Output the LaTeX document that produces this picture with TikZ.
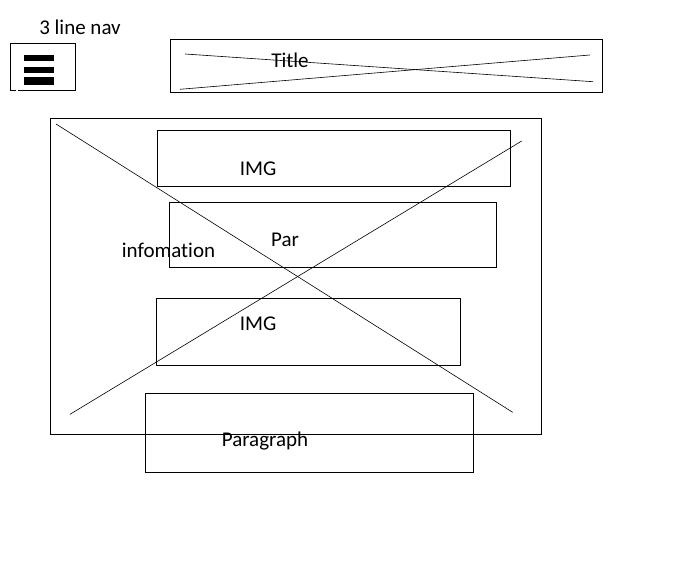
\documentclass[tikz,border=0pt]{standalone}
\usepackage{fontspec}
\setmainfont[Ligatures={NoCommon,NoRare}]{Carlito}
\usepackage{tikz}

\begin{document}
\begin{tikzpicture}[x=1pt,y=-1pt,
  box/.style={draw,line width=0.9pt},
  cross/.style={line width=0.6pt},
  lbl/.style={font=\fontsize{21}{25}\selectfont,inner sep=0pt}]
\useasboundingbox (0,0) rectangle (696,564);
% \draw[step=50,gray,very thin] (0,0) grid (696,564);

%% nav button
\node[lbl] (navtxt) at (80,27) {3 line nav};
\draw[box] (15.7,90.7) -- (10.7,90.7) -- (10.7,43.3) -- (75,43.3) -- (75,90.7) -- (18.3,90.7);
\fill (24,55) rectangle (54,61.5);
\fill (24,66.7) rectangle (54,73.3);
\fill (24,77.3) rectangle (54,85);

%% title bar
\draw[box] (170,39.3) rectangle (602.7,92.3);
\coordinate (t1) at (185,54);
\coordinate (t2) at (593,81.7);
\coordinate (t3) at (180,89.3);
\coordinate (t4) at (590,55);
\draw[cross] (t1) -- (t2);
\draw[cross] (t3) -- (t4);
\node[lbl] (title) at (290,60.5) {Title};

%% information panel
\draw[box] (50.7,118) rectangle (541,434.3);
\coordinate (m1) at (56,124);
\coordinate (m2) at (512.7,412.3);
\coordinate (m3) at (521.7,141);
\coordinate (m4) at (70,414.3);
\draw[cross] (m1) -- (m2);
\draw[cross] (m3) -- (m4);
\node[lbl] (info) at (168.5,250) {infomation};

%% content blocks
\draw[box] (157.3,130) rectangle (510.7,186);
\node[lbl] (img1) at (258,168.5) {IMG};
\draw[box] (169.3,202.3) rectangle (496.3,267);
\node[lbl] (par) at (285,239.5) {Par};
\draw[box] (156.3,298.3) rectangle (460.3,365);
\node[lbl] (img2) at (258,324) {IMG};
\draw[box] (145.3,393.3) rectangle (473.3,472.3);
\node[lbl] (para) at (265,441) {Paragraph};

\end{tikzpicture}
\end{document}
